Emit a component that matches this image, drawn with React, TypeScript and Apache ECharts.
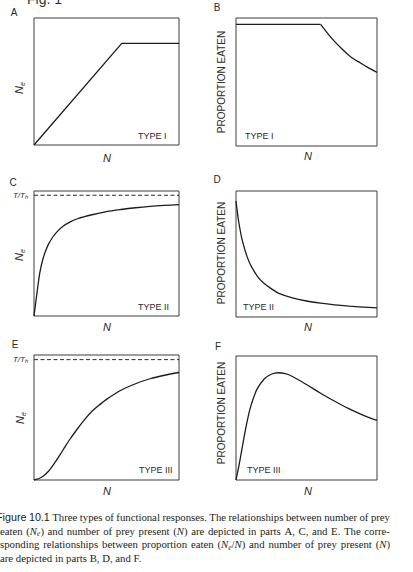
import React, { useEffect, useRef } from "react";
import * as echarts from "echarts";

// ---- data (N and y scaled 0..1 inside each panel) ----
const nTypeI = [0, 0.605, 1.0];
const neTypeI = [0, 0.8, 0.8];
const nPropI = [0, 0.6, 0.65, 0.7, 0.75, 0.81, 0.88, 0.94, 1.0];
const propI = [0.95, 0.95, 0.88, 0.815, 0.76, 0.7, 0.65, 0.61, 0.575];

const nTypeII = [0, 0.01, 0.02, 0.04, 0.06, 0.08, 0.1, 0.13, 0.16, 0.2, 0.25, 0.3, 0.4, 0.5, 0.6, 0.7, 0.8, 0.9, 1.0];
const neTypeII = [0, 0.09, 0.18, 0.345, 0.45, 0.52, 0.575, 0.632, 0.675, 0.718, 0.753, 0.778, 0.81, 0.835, 0.852, 0.866, 0.877, 0.885, 0.891];
const propII = [0.92, 0.83, 0.75, 0.63, 0.545, 0.475, 0.42, 0.36, 0.31, 0.265, 0.225, 0.19, 0.152, 0.127, 0.11, 0.097, 0.087, 0.079, 0.072];

const nTypeIII = [0, 0.05, 0.1, 0.15, 0.2, 0.25, 0.3, 0.35, 0.4, 0.45, 0.5, 0.6, 0.7, 0.8, 0.9, 1.0];
const neTypeIII = [0, 0.02, 0.07, 0.15, 0.24, 0.33, 0.41, 0.485, 0.55, 0.6, 0.645, 0.718, 0.77, 0.81, 0.838, 0.86];
const nPropIII = [0, 0.025, 0.05, 0.075, 0.1, 0.125, 0.15, 0.2, 0.25, 0.3, 0.35, 0.4, 0.5, 0.6, 0.7, 0.8, 0.9, 1.0];
const propIII = [0, 0.14, 0.3, 0.45, 0.575, 0.665, 0.735, 0.815, 0.853, 0.865, 0.857, 0.835, 0.77, 0.7, 0.635, 0.575, 0.523, 0.48];

const asymptoteN = [0, 1];
const asymptoteII = [0.966, 0.966];
const asymptoteIII = [0.963, 0.963];

const panelLetters = ["A", "B", "C", "D", "E", "F"];
const typeLabels = ["TYPE I", "TYPE I", "TYPE II", "TYPE II", "TYPE III", "TYPE III"];
const xName = "N";
const propName = "PROPORTION EATEN";
const figTitle = "Fig. 1";

const captionLines = [
  "#Figure# #10.1# Three types of functional responses. The relationships between number of prey",
  "eaten (*N*_e_) and number of prey present (*N*) are depicted in parts A, C, and E. The corre-",
  "sponding relationships between proportion eaten (*N*_e_/*N*) and number of prey present (*N*)",
  "are depicted in parts B, D, and F.",
];

// ---- layout ----
const GRIDS = [
  { left: 34, top: 18, width: 145, height: 127 },
  { left: 236, top: 18, width: 141, height: 128 },
  { left: 34, top: 191, width: 145, height: 125 },
  { left: 236, top: 191, width: 141, height: 126 },
  { left: 34, top: 355, width: 145, height: 125 },
  { left: 236, top: 356, width: 141, height: 124 },
];
const LETTER_POS = [[14, 12], [217, 7], [13, 182], [217, 179], [15, 344], [218, 346]];
const N_POS = [[107, 158], [308, 156], [107, 327], [308, 327], [107, 491], [308, 491]];
const TYPE_POS = [[138, 136], [245, 136], [138, 307], [243, 307], [139, 470], [247, 470]];
const NE_POS = [[19, 88], [19, 255], [20, 418]];
const PROP_POS = [[221.5, 82], [221.5, 253], [221.5, 413]];
const TTH_POS = [[28, 195], [28, 359]];
const CAPTION_Y = [516.5, 530.5, 544, 557.5];
const CAPTION_X0 = [-4, 0, 0, 0];
const CAPTION_X1 = 390;

const SANS = "'Liberation Sans', Arial, Helvetica, sans-serif";
const SERIF = "'Liberation Serif', 'Times New Roman', serif";
const INK = "#1c1c1c";

const zip = (xs: number[], ys: number[]) => xs.map((x, i) => [x, ys[i]]);

type Seg = { t: string; k: string };
function parseWord(w: string): Seg[] {
  const parts = w.split(/(\*[^*]+\*|_[^_]+_|#[^#]+#)/).filter((p) => p.length > 0);
  return parts.map((p) => {
    if (p.startsWith("*")) return { t: p.slice(1, -1), k: "i" };
    if (p.startsWith("_")) return { t: p.slice(1, -1), k: "s" };
    if (p.startsWith("#")) return { t: p.slice(1, -1), k: "f" };
    return { t: p, k: "r" };
  });
}

function buildCaption(): any[] {
  const canvas = document.createElement("canvas");
  const ctx = canvas.getContext("2d")!;
  const fs = 11;
  const fontFor = (k: string) => {
    if (k === "i") return `italic ${fs}px ${SERIF}`;
    if (k === "s") return `italic ${fs * 0.7}px ${SERIF}`;
    if (k === "f") return `${fs}px ${SANS}`;
    return `${fs}px ${SERIF}`;
  };
  const measure = (segs: Seg[]) =>
    segs.reduce((acc, s) => {
      ctx.font = fontFor(s.k);
      return acc + ctx.measureText(s.t).width;
    }, 0);
  ctx.font = `${fs}px ${SERIF}`;
  const space = ctx.measureText(" ").width;
  const lines = captionLines.map((l) => l.split(" ").map(parseWord));
  // horizontal condensation so that the first (justified) line fits with tight spaces
  const nat0 = lines[0].reduce((a, w) => a + measure(w), 0) + space * 0.9 * (lines[0].length - 1);
  const sx = Math.min(1, (CAPTION_X1 - CAPTION_X0[0]) / nat0);
  const rich: any = {
    r: { fontFamily: SERIF, fontSize: fs, fill: INK, lineHeight: fs * 1.3 },
    i: { fontFamily: SERIF, fontSize: fs, fontStyle: "italic", fill: INK, lineHeight: fs * 1.3 },
    s: { fontFamily: SERIF, fontSize: fs * 0.7, fontStyle: "italic", fill: INK, lineHeight: fs * 0.75, verticalAlign: "bottom" },
    f: { fontFamily: SANS, fontSize: fs, fill: INK, lineHeight: fs * 1.3 },
  };
  const els: any[] = [];
  lines.forEach((words, li) => {
    const widths = words.map((w) => measure(w) * sx);
    const total = widths.reduce((a, b) => a + b, 0);
    const justify = li < lines.length - 1;
    const gap = justify ? (CAPTION_X1 - CAPTION_X0[li] - total) / (words.length - 1) : space * sx;
    let x = CAPTION_X0[li];
    words.forEach((w, wi) => {
      els.push({
        type: "text",
        silent: true,
        x,
        y: CAPTION_Y[li],
        scaleX: sx,
        style: {
          text: w.map((s) => `{${s.k}|${s.t}}`).join(""),
          rich,
          align: "left",
          verticalAlign: "middle",
        },
      });
      x += widths[wi] + gap;
    });
  });
  return els;
}

function buildOption(): any {
  const lineStyle = { color: INK, width: 1.3 };
  const dashStyle = { color: "#2a2a2a", width: 1, type: [4, 2.5] };
  const mk = (idx: number, data: number[][], smooth: boolean, dashed = false) => ({
    type: "line",
    xAxisIndex: idx,
    yAxisIndex: idx,
    data,
    symbol: "none",
    showSymbol: false,
    smooth: smooth ? 0.3 : false,
    lineStyle: dashed ? dashStyle : lineStyle,
    silent: true,
    z: dashed ? 2 : 3,
  });
  const propIData = zip(nPropI, propI);
  const series = [
    mk(0, zip(nTypeI, neTypeI), false),
    mk(1, propIData.slice(0, 2), false),
    mk(1, propIData.slice(1), true),
    mk(2, zip(nTypeII, neTypeII), true),
    mk(2, zip(asymptoteN, asymptoteII), false, true),
    mk(3, zip(nTypeII, propII), true),
    mk(4, zip(nTypeIII, neTypeIII), true),
    mk(4, zip(asymptoteN, asymptoteIII), false, true),
    mk(5, zip(nPropIII, propIII), true),
  ];

  const graphic: any[] = [];
  graphic.push({
    type: "text", silent: true, x: 27, y: -1,
    style: { text: figTitle, fontFamily: SANS, fontSize: 14, fill: "#333", align: "left", verticalAlign: "middle" },
  });
  panelLetters.forEach((l, i) => {
    graphic.push({
      type: "text", silent: true, x: LETTER_POS[i][0], y: LETTER_POS[i][1],
      style: { text: l, fontFamily: SANS, fontSize: 10, fill: "#2a2a2a", align: "center", verticalAlign: "middle" },
    });
    graphic.push({
      type: "text", silent: true, x: N_POS[i][0], y: N_POS[i][1],
      style: { text: xName, fontFamily: SANS, fontSize: 11, fontStyle: "italic", fill: "#2a2a2a", align: "center", verticalAlign: "middle" },
    });
    graphic.push({
      type: "text", silent: true, x: TYPE_POS[i][0], y: TYPE_POS[i][1],
      style: { text: typeLabels[i], fontFamily: SANS, fontSize: 9, fill: "#2a2a2a", align: "left", verticalAlign: "middle" },
    });
  });
  NE_POS.forEach((p) => {
    graphic.push({
      type: "text", silent: true, x: p[0], y: p[1], rotation: Math.PI / 2,
      style: {
        text: "{n|N}{s|e}",
        align: "center",
        verticalAlign: "middle",
        rich: {
          n: { fontFamily: SANS, fontSize: 11, fontStyle: "italic", fill: "#2a2a2a", lineHeight: 13 },
          s: { fontFamily: SANS, fontSize: 7, fontStyle: "italic", fill: "#2a2a2a", lineHeight: 7, verticalAlign: "bottom" },
        },
      },
    });
  });
  PROP_POS.forEach((p) => {
    graphic.push({
      type: "text", silent: true, x: p[0], y: p[1], rotation: Math.PI / 2,
      style: { text: propName, fontFamily: SANS, fontSize: 10, fill: "#2a2a2a", align: "center", verticalAlign: "middle" },
    });
  });
  TTH_POS.forEach((p) => {
    graphic.push({
      type: "text", silent: true, x: p[0], y: p[1],
      style: {
        text: "{i|T/T}{s|h}",
        align: "right",
        verticalAlign: "middle",
        rich: {
          i: { fontFamily: SANS, fontSize: 8, fontStyle: "italic", fill: "#2a2a2a", lineHeight: 10 },
          s: { fontFamily: SANS, fontSize: 5.5, fontStyle: "italic", fill: "#2a2a2a", lineHeight: 6, verticalAlign: "bottom" },
        },
      },
    });
  });
  graphic.push(...buildCaption());

  return {
    animation: false,
    backgroundColor: "#ffffff",
    grid: GRIDS.map((g) => ({ ...g, show: true, borderColor: "#3c3c3c", borderWidth: 1, backgroundColor: "transparent", containLabel: false })),
    xAxis: GRIDS.map((_, i) => ({ type: "value", gridIndex: i, min: 0, max: 1, show: false })),
    yAxis: GRIDS.map((_, i) => ({ type: "value", gridIndex: i, min: 0, max: 1, show: false })),
    series,
    graphic,
  };
}

export default function App() {
  const ref = useRef<HTMLDivElement>(null);
  useEffect(() => {
    if (!ref.current) return;
    const chart = echarts.init(ref.current, undefined, { renderer: "svg" });
    chart.setOption(buildOption());
    return () => chart.dispose();
  }, []);
  return (
    <div
      ref={ref}
      style={{ position: "absolute", left: 0, top: 0, width: 413, height: 572, background: "#fff" }}
    />
  );
}
